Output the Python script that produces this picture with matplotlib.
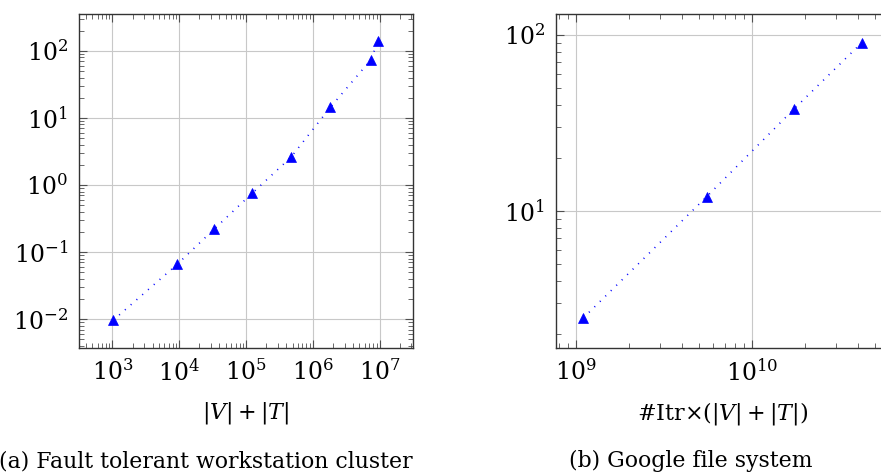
import numpy as np
import matplotlib
matplotlib.use("Agg")
import matplotlib.pyplot as plt
from matplotlib.ticker import LogLocator, NullFormatter

plt.rcParams['font.family'] = 'DejaVu Serif'
plt.rcParams['mathtext.fontset'] = 'dejavuserif'

# (a) Fault tolerant workstation cluster
taille_a = [1035, 9300, 33000, 123000, 470000, 1.84e6, 7.35e6, 9.5e6]
temps_a = [0.0097, 0.0655, 0.218, 0.75, 2.59, 14.5, 73, 141]

# (b) Google file system
taille_b = [1.1e9, 5.52e9, 1.73e10, 4.21e10]
temps_b = [2.48, 12.05, 37.8, 90]

fig = plt.figure(figsize=(8.81, 4.73), dpi=100)
W, H = 881, 473

# positions en pixels (gauche, droite, haut, bas)
ax1 = fig.add_axes([79 / W, 1 - 348 / H, 334 / W, 334 / H])
ax2 = fig.add_axes([556 / W, 1 - 348 / H, 334 / W, 334 / H])

def style_axe(ax):
    ax.set_xscale('log')
    ax.set_yscale('log')
    for axis in (ax.xaxis, ax.yaxis):
        axis.set_major_locator(LogLocator(base=10, numticks=100))
        axis.set_minor_locator(LogLocator(base=10, subs=np.arange(2, 10), numticks=100))
        axis.set_minor_formatter(NullFormatter())
    ax.tick_params(which='both', direction='in', top=True, right=True,
                   color='#505050', labelsize=17)
    ax.tick_params(which='major', length=6, width=0.8, pad=8)
    ax.tick_params(which='minor', length=3.8, width=0.6)
    ax.grid(True, which='major', color='#c8c8c8', linewidth=0.8)
    ax.set_axisbelow(True)
    for s in ax.spines.values():
        s.set_color('#333333')
        s.set_linewidth(1.0)

style_axe(ax1)
ax1.plot(taille_a, temps_a, color='blue', linestyle=(0, (0.6, 4)), linewidth=1.2,
         marker='^', markersize=6.5, markeredgewidth=0.5)
ax1.set_xlim(10**2.5, 10**7.5)
ax1.set_ylim(10**-2.43, 10**2.55)
ax1.set_xlabel(r'$|V|+|T|$', fontsize=16, labelpad=10)

style_axe(ax2)
ax2.plot(taille_b, temps_b, color='blue', linestyle=(0, (0.6, 4)), linewidth=1.2,
         marker='^', markersize=6.5, markeredgewidth=0.5)
ax2.set_xlim(10**8.885, 10**10.785)
ax2.set_ylim(10**0.223, 10**2.117)
ax2.set_xlabel(r'#Itr$\times(|V|+|T|)$', fontsize=16, labelpad=10)

fig.text(206 / W, 1 - 461 / H, '(a) Fault tolerant workstation cluster',
         ha='center', va='center', fontsize=15.8)
fig.text(691 / W, 1 - 461 / H, '(b) Google file system',
         ha='center', va='center', fontsize=15.8)

fig.savefig('out.png', dpi=100)
